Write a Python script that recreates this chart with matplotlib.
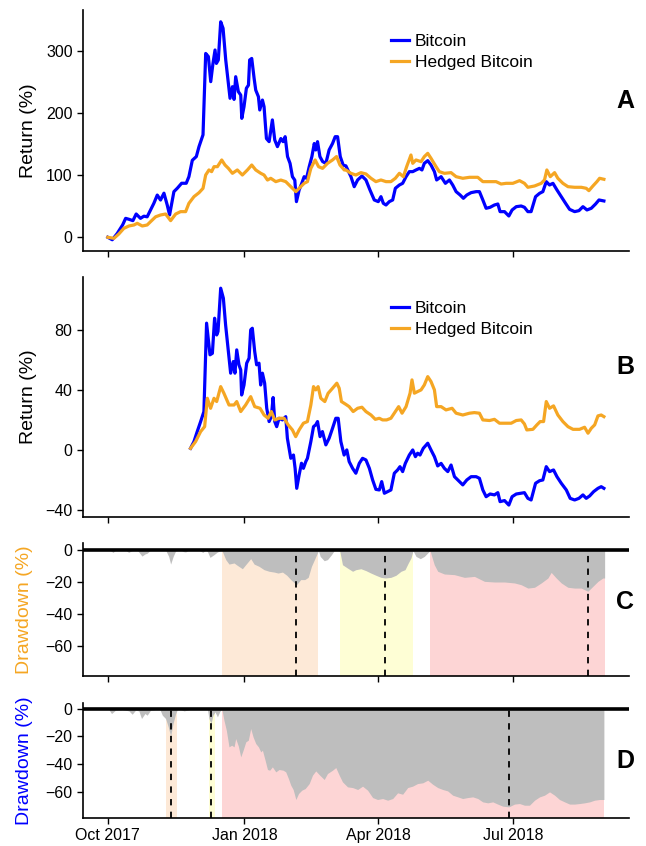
import numpy as np
import pandas as pd
import matplotlib
matplotlib.use("Agg")
import matplotlib.pyplot as plt
import matplotlib.dates as mdates

plt.rcParams['font.family'] = ['Liberation Sans', 'DejaVu Sans']

start = pd.Timestamp('2017-10-01')

# Panel A: cumulative return since Oct 2017 (days since start, %)
a_btc_days = [0, 3, 6.3, 10, 12, 14.2, 16.9, 19.1, 22, 24.3, 26.5, 28.8, 31, 33.3, 35.5, 37.8,
              40, 41.6, 44.5, 46.8, 49.7, 52.8, 54.6, 56.9, 59.6, 61.4, 64.1, 65.9, 67.7, 69.3,
              70.8, 72.2, 73.1, 74.4, 76, 77.6, 79.4, 81.2, 82.3, 83.9, 85, 86.1, 87.9, 89.5,
              90.2, 91.7, 93.3, 94.7, 95.5, 96.9, 98.5, 99.6, 101.4, 102.3, 104.1, 105.2, 106.8,
              108.6, 110.8, 112.4, 114.2, 116.5, 118, 119.4, 121, 122.7, 124.3, 125.9, 127,
              128.8, 130.6, 132.2, 133.8, 135.6, 137.4, 139, 140, 141.2, 142.8, 144.6, 146.8,
              149, 151.3, 153.1, 154.7, 156.5, 158.5, 160.3, 163.7, 165.9, 168.2, 171.1, 173.8,
              176.5, 179.4, 182.1, 183.9, 185.5, 187.3, 189.5, 191.8, 193.6, 196.3, 198.5,
              200.8, 203, 205.3, 207.5, 209.8, 211.5, 213.1, 215.4, 217.6, 219.9, 221.4, 224.4,
              227.3, 230, 232.2, 234.5, 237.2, 239.4, 241.7, 244.6, 248, 250.2, 252.5, 254.7,
              257.4, 260.3, 262.6, 264.1, 267.1, 270, 272.2, 275, 278.3, 280.5, 282.8, 285,
              288, 290.7, 292.9, 295.2, 297.4, 299.7, 302.4, 305.3, 308.2, 310.9, 314.3, 317.2,
              319.9, 322.6, 325.5, 328.4, 330.7, 332.9, 334]
a_btc = [0, -4, 6, 20, 30.5, 29, 26.8, 37.5, 30.5, 34, 33, 44, 54.7, 68, 60, 71,
         52, 36, 73.5, 79, 87, 87, 97.6, 124, 130, 146, 165, 296, 291, 250.6,
         280, 301.6, 280, 285.5, 347, 336.5, 285.5, 248, 223.8, 242.5, 222, 258.6, 234.5, 229,
         191.5, 210.3, 240, 245, 285.5, 288, 256, 237, 226.4, 205, 221, 210.3, 159,
         154, 189, 156.7, 146, 159, 154, 162, 130, 119, 97.6, 92, 57.4,
         76, 87, 97.6, 95, 113.7, 130, 151, 140.6, 154, 130, 122, 119,
         140.6, 151, 162, 162, 130, 116, 115, 97.6, 81.5, 92.3, 98.7, 92.3,
         76.2, 60.1, 57.4, 65.4, 54.7, 52, 57.4, 60.1, 78.9, 84.2, 86.9,
         97.6, 105.7, 105.7, 108.4, 111, 108.4, 119.1, 123.4, 116.4, 105.7, 92.3, 97.6,
         86.9, 92.3, 84.2, 73.5, 68.1, 62.8, 68.1, 71.9, 73.5, 73.5, 60.1, 46.7,
         48.3, 52, 53.6, 41.3, 41.3, 34.3, 44, 49.3, 50.4, 48.3, 41.3, 41.3,
         65.4, 70.8, 73.5, 89.6, 84.2, 86.9, 76.2, 65.4, 54.7, 45, 41.3, 42.9,
         49.3, 44, 46.7, 53.6, 60.1, 59, 58.5]

a_hedge_days = [0, 4.1, 7.4, 10.8, 14.2, 17.6, 19.8, 23.2, 26.5, 28.8, 32.2, 35.5, 38.9, 42.3,
                45.7, 49, 52.4, 54.6, 58, 61.4, 64.1, 65.9, 68.1, 69.9, 71.5, 73.8, 76.7, 78.9,
                81.2, 83.9, 87.2, 90.6, 94, 96.9, 99.6, 103, 105.2, 107.5, 109.7, 113.1, 116.5,
                119.8, 123.2, 126.6, 128.8, 132.2, 134.4, 136.7, 139.6, 141.9, 144.6, 147.9,
                151.3, 154, 156.3, 159.2, 160.3, 163.7, 167, 170.4, 173.8, 177.2, 180.5, 183.9,
                187.3, 190.6, 193.6, 196.3, 199, 201.2, 204.1, 205.3, 207.5, 210.9, 213.1, 215.4,
                217.6, 221, 223.2, 226.6, 231.1, 234.5, 239, 243.5, 249.1, 252.5, 257, 261.4,
                264.8, 268.2, 272.7, 277.2, 280.5, 282.8, 287.3, 291.8, 294, 295.6, 297.9, 300.8,
                303, 306.4, 309.8, 314.3, 318.8, 322.1, 323.9, 326.6, 329.3, 331.1, 334]
a_hedge = [0, -1.7, 5.3, 14.4, 18.2, 19.8, 22.5, 18.2, 19.8, 25.2, 33, 35.9, 37.5, 26.8,
           37.5, 41.3, 41.3, 54.7, 65.4, 71.8, 78.8, 100.3, 108.4, 105.7, 113.7, 113.7, 124.5, 116.4,
           111, 103, 108.4, 100.3, 108.4, 116.4, 108.4, 103, 100.3, 92.2, 95, 89.6, 92.2,
           89.6, 81.5, 73.5, 78.8, 87, 89.6, 111, 124.5, 113.7, 111, 119,
           124.5, 130, 116.4, 108.4, 108.4, 103, 100.3, 104.1, 102, 95, 89.6, 92.3,
           89.6, 89.6, 95, 103, 97.6, 113.7, 132.5, 119.1, 124.5, 121.8, 129.9, 135.2,
           127.2, 113.7, 105.7, 103, 104.1, 97.6, 95, 96.6, 96.6, 89.6, 89.6, 89.6,
           85.8, 86.9, 86.9, 91.2, 86.9, 80.5, 82.6, 86.9, 92.3, 108.4, 97.6, 104.1,
           95, 86.9, 81.5, 80.5, 80.5, 78.9, 75.1, 82.6, 89.6, 95, 93.4]

# Panel B: return since late Nov 2017
b_btc_days = [55.7, 58, 60.2, 62.5, 64.7, 66.5, 68.8, 70.4, 71.9, 73.3, 74.2, 76, 77.8, 79.3,
              81.6, 82.7, 84.5, 85.6, 86.8, 88.3, 89.5, 90.1, 91.7, 93.5, 95.1, 96.2, 97.3,
              98.9, 100.2, 101.8, 102.9, 104.1, 105.6, 107, 108.6, 110.1, 111.3, 112.4, 113.7,
              115.3, 117.6, 119.8, 120.9, 123.2, 125, 126.1, 127.2, 128.8, 130.4, 131.7, 133.3,
              134.4, 136.7, 138.5, 140, 141.2, 142.9, 144.5, 146.8, 149, 151.3, 153.5, 155.1,
              156.9, 159.1, 160.9, 162.5, 164.8, 167, 169.3, 171.5, 173.8, 176.1, 178.3, 180.5,
              182.8, 184.4, 186.2, 188.4, 190.6, 192.9, 195.1, 196.7, 198.5, 200.3, 203, 205.3,
              207.1, 208.6, 210.2, 212.4, 215.4, 217.6, 219.9, 222.1, 224.4, 226.6, 228.9,
              231.1, 233.4, 236.7, 239, 241.7, 244.6, 248, 250.2, 252.5, 254.7, 257.4, 260.3,
              262.6, 264.1, 267.1, 270, 272.2, 275, 278.3, 280.5, 282.8, 285, 288, 290.7,
              292.9, 295.2, 297.4, 300.1, 302.4, 305.3, 308.7, 311.3, 314.3, 317.2, 319.9,
              322.1, 324.4, 327.1, 330, 332.2, 334]
b_btc = [1.1, 5.6, 12.3, 19, 25.7, 84.9, 63.7, 64.7, 88.2, 77, 79.3, 108.3, 101.6, 83.8,
         61.4, 51.4, 59.2, 51.4, 67, 57, 53.6, 36.8, 43.5, 58.1, 61.4, 80.4, 81.5,
         65.9, 57, 58.1, 43.5, 51.4, 44.7, 27.9, 19, 22.3, 35.1, 19, 15.6,
         21.2, 20.1, 22.3, 7.8, -5.6, -3.4, -12.3, -25.7, -16.8, -8.9, -12.3, -7.8,
         -5.6, 5.6, 15.6, 16.8, 19, 8.9, 12.3, 3.4, 7.8, 14.5, 21.2, 21.2,
         5.6, -3.4, 0, -7.8, -12.3, -15.6, -9, -5.6, -6.7, -12.3, -20.1, -26.4,
         -26.8, -21.2, -29, -27.9, -26.8, -15.6, -13.4, -11.2, -14.5, -9, -3.4, 0,
         -4.5, -2.2, -3.4, 1.1, 4.5, 0, -4.5, -10.7, -9, -12.3, -14.5,
         -10.1, -17.9, -21.2, -23.4, -20.1, -17.9, -17.9, -19, -26.8, -31.3, -29.5, -30.1,
         -28.6, -34.6, -33.9, -36.9, -31.3, -29.5, -29, -28.6, -32.4, -33.5, -22.3, -20.6,
         -20.1, -11.2, -14.5, -13.4, -17.9, -22.3, -26.8, -32.4, -33.5, -32.4, -30.1,
         -32.4, -30.8, -27.9, -25.7, -24.6, -25.7]

b_hedge_days = [55.7, 59.1, 62.5, 65.2, 67, 69.2, 71.5, 73.3, 76, 78.2, 81.6, 85, 86.8, 89.5,
                92.8, 96.2, 98.9, 102.5, 105.2, 107.9, 110.1, 112.4, 115.3, 118.7, 121.4, 124.3,
                126.5, 128.8, 131.7, 134.4, 136.7, 138.5, 140, 141.6, 143.4, 146.1, 148.3, 151.3,
                154.2, 155.8, 157.3, 160.3, 162.5, 165.2, 168.2, 171.1, 173.8, 177.2, 180.1,
                182.8, 185, 187.7, 190.6, 193.6, 195.8, 198.1, 200.8, 203.5, 204.8, 206.4, 208.6,
                210.9, 213.1, 215.4, 217.6, 219.9, 221.4, 224.4, 227.7, 231.8, 234.5, 239, 243.5,
                246.8, 250.2, 252.5, 257, 260.3, 263.7, 268.2, 271.6, 275, 278.3, 280.5, 282.1,
                286.2, 288.9, 291.1, 293.4, 295.2, 297.4, 300.1, 303, 306.4, 309.8, 313.2, 317.6,
                321, 323.3, 325.5, 327.8, 330, 332.2, 334]
b_hedge = [1.1, 5.6, 12.3, 15.6, 34.6, 27.9, 34.6, 32.4, 42.4, 37.9, 30.1, 30.1, 32.4, 25.7,
           30.1, 35.7, 29, 27.9, 23.4, 21.2, 25.7, 20.1, 21.2, 21.2, 16.8, 13.4,
           8.9, 13.4, 17.9, 19, 30.1, 42.4, 40.2, 42.4, 34.6, 32.4, 37.9, 41.3,
           44.7, 41.3, 32.4, 30.5, 29, 25.7, 27.9, 28.6, 25.7, 23.4, 20.5,
           21.2, 20.1, 20.1, 21.2, 25.7, 29, 24.6, 29, 38, 46.9, 38, 39.1,
           40.2, 43.5, 49.1, 45.8, 40.2, 29, 29, 26.8, 27.9, 24.6, 23.4, 24.6,
           25, 24.6, 20.1, 19.7, 20.5, 17.9, 17.9, 17.9, 19.7, 20.1, 17.4, 13.4,
           13.8, 16.8, 19, 19, 32.4, 27.9, 29.5, 23.4, 19, 15.6, 13.8, 13.8,
           15.2, 11.2, 14.5, 16.8, 22.8, 23.4, 22.3]

# Panel C: drawdown of hedged bitcoin (%)
c_days = [0, 2, 3.5, 5, 8, 12, 14, 16, 19.8, 23, 25, 26.5, 28.8, 35, 38.9, 41, 42.3, 44, 45.7,
          49, 51, 52.4, 54.6, 61, 64, 65.9, 67, 68.8, 71.5, 73.7, 76.7, 79.4, 81.6, 85, 87.2,
          90.6, 92.8, 96.2, 98.5, 101.8, 105.2, 108.6, 112, 114.6, 117.6, 120.5, 123.2, 127,
          129.9, 132.6, 134.9, 137.1, 139.4, 141.8, 143, 145.7, 147.9, 150.6, 152.4, 154.7,
          156.2, 158, 161.4, 164.8, 167, 170.4, 173.8, 177.1, 180.5, 183.9, 186.8, 190.6, 194,
          197.4, 200.1, 202.3, 204.1, 205.5, 207.5, 210.4, 213.1, 215.3, 216.9, 219.8, 222.1,
          226.6, 233.3, 240.1, 246.8, 253.6, 260.3, 267, 273.8, 278.3, 282.8, 287.3, 291.8,
          296.3, 298.5, 301.9, 305.3, 309.7, 314.2, 318.7, 323.2, 326.6, 330, 333.3, 334.5]
c_dd = [0, -0.5, -1.5, -0.3, 0, 0, -1.5, -0.5, 0, -3.8, -2.5, -2, 0, 0, 0, -4, -8.8, -4, -0.5,
        0, -1, -1.2, 0, 0, -1.5, 0, -0.8, -4.6, -2.9, -1.3, 0, -6, -8.8, -8.1, -9.6,
        -11.7, -9.2, -5.4, -8.8, -10.2, -12.3, -13.3, -13.8, -14.4, -13.8, -15.8, -18.5, -21.7,
        -18.5, -18.5, -17.1, -10.2, -5.4, -0.4, -4, -6.7, -6, -2.9, -0.4, -0.4,
        -0.8, -9.2, -11.3, -13.3, -12.3, -11.7, -12.9, -14.4, -15.8, -17.1, -17.5, -17.1, -15.8,
        -13.3, -12.3, -8.1, -5, -0.4, -4, -5.4, -4, -1.9, -0.4, -9.2, -13.3,
        -15, -15.4, -17.1, -16.5, -19.6, -20, -20, -20.6, -21.7, -23.8, -23.3, -20.6,
        -17.5, -14, -17.5, -20.6, -23.3, -23.8, -23.8, -25.8, -22.7, -19.6, -17.5, -17.5]

# Panel D: drawdown of bitcoin (%)
d_days = [0, 0.7, 2.5, 5.2, 9.7, 14.2, 16.4, 18.7, 20.9, 22.7, 25, 26.5, 28.8, 32.2, 35.1, 36.7,
          38.9, 40.7, 42.3, 43.9, 45.7, 46.8, 49, 51.3, 53.5, 56.9, 67, 68.1, 69.5, 70.8, 72.2,
          73.8, 75.3, 76.7, 78.2, 79.8, 81.6, 83.4, 85, 86.1, 87.9, 89.5, 91.1, 92.9, 94.6,
          96.2, 97.8, 99.6, 101.4, 103, 104.1, 105.9, 107.5, 109, 110.8, 113.1, 115.3, 118,
          119.8, 121.6, 123.2, 124.8, 126.6, 128.4, 130.6, 132.9, 135.6, 137.8, 140, 142.7,
          145.7, 147.9, 151.3, 153.5, 155.8, 158, 161.4, 164.8, 168.2, 171.5, 174.9, 178.3,
          181.6, 185, 188.4, 191.8, 195.1, 198.5, 201.9, 205.2, 208.6, 212, 215.4, 218.7,
          222.1, 225.5, 228.8, 232.2, 235.6, 238.9, 242.3, 245.7, 249.1, 252.4, 255.8, 259.2,
          262.5, 265.9, 270, 273.8, 277.2, 280.5, 283.9, 287.3, 290.7, 294, 297.4, 300.8,
          304.1, 307.5, 310.9, 314.3, 317.6, 321, 324.4, 327.7, 331.1, 334]
d_dd = [0, -0.7, -3.6, -1.2, -0.7, -1.7, -4.1, -1.2, -1.7, -7.2, -3.6, -4.8, -1.2, -0.7, -0.7, -4.8,
        -7.2, -13.2, -19.9, -10.8, -3.6, -0.7, -0.7, -1.7, -1.2, 0, 0, -7.2, -10.8, -4.8, -2.4,
        -6, -2.4, 0, -8.4, -15.6, -27.6, -26.4, -27.6, -21.6, -27.1, -34.8, -30, -24, -22.8,
        -14.4, -20.4, -25.2, -27.6, -31.2, -30, -37.2, -43.9, -44.4, -42, -45.6, -43.9, -44.4,
        -45.6, -50.4, -55.2, -58.3, -65.5, -61.2, -58.8, -57.6, -54, -48, -44.9, -48,
        -51.1, -46.8, -44.4, -42.5, -48, -52.8, -56.4, -56.9, -58.3, -55.9, -58.8, -64.1,
        -65.5, -64.8, -66, -64.8, -60.7, -61.7, -56.9, -55.9, -54, -53.5, -51.6, -54.5,
        -56.9, -58.3, -59.3, -62.4, -63.6, -64.8, -64.1, -63.6, -64.8, -67.2, -67.9, -67.2,
        -68.8, -70.3, -70.8, -68.8, -68.4, -69.6, -69.6, -66, -63.6, -62.4, -60, -62.4,
        -65.5, -67.2, -68.8, -68.8, -68.4, -67.9, -67.2, -66, -65.5, -65.5]

# drawdown episodes: start, trough, end (days since start)
c_start = [76.7, 156.2, 216.9]
c_trough = [127, 186.8, 323.2]
c_end = [141.8, 205.2, 334.5]
d_start = [38.9, 68.1, 76.7]
d_trough = [42.3, 69.3, 270]
d_end = [46.3, 72, 333.8]
episode_colors = ['#FDE9D7', '#FEFED5', '#FDD5D5']

blue = '#0000FF'
orange = '#F5A623'


def to_dates(days):
    return start + pd.to_timedelta(np.array(days), unit='D')


fig = plt.figure(figsize=(6.46, 8.46), dpi=100)
L = 83 / 646
W = (628.7 - 83) / 646
axA = fig.add_axes([L, 1 - 250.7 / 846, W, (250.7 - 10) / 846])
axB = fig.add_axes([L, 1 - 517 / 846, W, (517 - 276.7) / 846])
axC = fig.add_axes([L, 1 - 675.7 / 846, W, (675.7 - 543.3) / 846])
axD = fig.add_axes([L, 1 - 817.7 / 846, W, (817.7 - 702.7) / 846])

xlo = start - pd.Timedelta(days=16.7)
xhi = start + pd.Timedelta(days=350.7)

for ax in [axA, axB, axC, axD]:
    ax.spines['top'].set_visible(False)
    ax.spines['right'].set_visible(False)
    ax.spines['left'].set_linewidth(1.2)
    ax.spines['bottom'].set_linewidth(1.2)
    ax.tick_params(direction='out', length=4, width=1, labelsize=11.5)
    ax.set_xlim(xlo, xhi)
    ax.xaxis.set_major_locator(mdates.MonthLocator(bymonth=[1, 4, 7, 10]))
    ax.xaxis.set_major_formatter(mdates.DateFormatter('%b %Y'))
    if ax is not axD:
        ax.tick_params(labelbottom=False)

leg_kw = dict(loc='upper left', bbox_to_anchor=(0.565, 0.90), frameon=False, fontsize=12.5,
              handlelength=1.0, handletextpad=0.35, labelspacing=0.35, borderpad=0,
              borderaxespad=0)

# A
axA.plot(to_dates(a_btc_days), a_btc, color=blue, lw=2.3, label='Bitcoin')
axA.plot(to_dates(a_hedge_days), a_hedge, color=orange, lw=2.3, label='Hedged Bitcoin')
axA.set_ylim(-21.6, 366)
axA.set_yticks([0, 100, 200, 300])
axA.set_ylabel('Return (%)', fontsize=14)
axA.legend(**leg_kw)

# B
axB.plot(to_dates(b_btc_days), b_btc, color=blue, lw=2.3, label='Bitcoin')
axB.plot(to_dates(b_hedge_days), b_hedge, color=orange, lw=2.3, label='Hedged Bitcoin')
axB.set_ylim(-44.9, 116)
axB.set_yticks([-40, 0, 40, 80])
axB.set_ylabel('Return (%)', fontsize=14)
axB.legend(**leg_kw)

# C and D drawdowns
ylo, yhi = -78.6, 4.2
for ax, days, dd, s_list, t_list, e_list, lab_color in [
        (axC, c_days, c_dd, c_start, c_trough, c_end, orange),
        (axD, d_days, d_dd, d_start, d_trough, d_end, blue)]:
    ax.set_ylim(ylo, yhi)
    top = (0 - ylo) / (yhi - ylo)
    for s, e, col in zip(s_list, e_list, episode_colors):
        ax.axvspan(start + pd.Timedelta(days=s), start + pd.Timedelta(days=e),
                   ymin=0, ymax=top, color=col, lw=0, zorder=0)
    ax.fill_between(to_dates(days), dd, 0, color='#BEBEBE', lw=0, zorder=1)
    for t in t_list:
        ax.vlines(start + pd.Timedelta(days=t), ylo, 0, colors='black',
                  linestyles=(0, (3.5, 3.5)), lw=1.3, zorder=2)
    ax.axhline(0, color='black', lw=2.6, zorder=3)
    ax.set_yticks([0, -20, -40, -60])
    ax.set_ylabel('Drawdown (%)', fontsize=14, color=lab_color)

for ax in [axA, axB]:
    ax.yaxis.set_label_coords(-0.085, 0.5)
for ax in [axC, axD]:
    ax.yaxis.set_label_coords(-0.092, 0.5)

for label, yy in [('A', 101), ('B', 366.7), ('C', 602), ('D', 761)]:
    fig.text(625 / 646, 1 - yy / 846, label, fontsize=18, fontweight='bold',
             ha='center', va='center')

fig.savefig('out.png', dpi=100)
